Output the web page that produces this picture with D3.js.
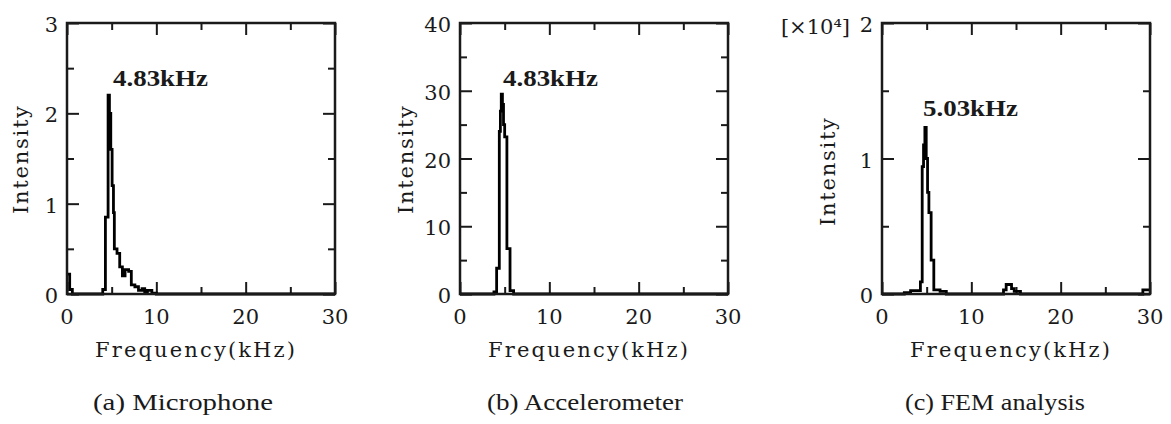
<!DOCTYPE html>
<html>
<head>
<meta charset="utf-8">
<script src="https://cdn.jsdelivr.net/npm/d3@7"></script>
<style>
  body { margin: 0; background: #fff; }
  text { font-family: "DejaVu Serif", "Liberation Serif", serif; fill: #1a1a1a; }
  text.times { font-family: "Liberation Serif", "DejaVu Serif", serif; }
</style>
</head>
<body>
<div id="vis"></div>
<script>
// Espectros (kHz, intensidad), leidos a ojo de la figura
const FREQ_A = [0, 0.3, 0.6, 4.0, 4.3, 4.6, 4.75, 4.9, 5.05, 5.2, 5.3, 5.6, 5.9, 6.2, 6.5, 6.9, 7.2, 7.6, 8.0, 8.4, 8.7, 9.0, 9.5, 10.0, 30];
const INT_A  = [0.22, 0.05, 0, 0.05, 0.85, 2.2, 2.0, 1.6, 1.2, 0.9, 0.5, 0.45, 0.3, 0.2, 0.27, 0.25, 0.1, 0.08, 0.04, 0.06, 0.02, 0.04, 0.01, 0, 0];

const FREQ_B = [0, 3.8, 4.1, 4.4, 4.52, 4.62, 4.75, 4.87, 5.0, 5.25, 5.6, 6.0, 30];
const INT_B  = [0, 0.3, 3.8, 24, 27, 29.5, 28, 25, 23.2, 6.7, 0.5, 0, 0];

const FREQ_C = [0, 2.5, 3.2, 4.3, 4.5, 4.65, 4.8, 4.95, 5.1, 5.25, 5.5, 5.8, 6.5, 7.2, 13.6, 13.9, 14.5, 14.8, 15.5, 29.2, 30];
const INT_C  = [0, 0.01, 0.025, 0.09, 0.94, 1.1, 1.23, 1.0, 0.75, 0.6, 0.25, 0.03, 0.02, 0, 0.03, 0.07, 0.04, 0.02, 0, 0.03, 0.03];

const X_TICKS = [0, 10, 20, 30];
const Y_TICKS_A = [0, 1, 2, 3];
const Y_TICKS_B = [0, 10, 20, 30, 40];
const Y_TICKS_C = [0, 1, 2];

const PEAK_LABELS = ["4.83kHz", "4.83kHz", "5.03kHz"];
const CAPTIONS = ["(a) Microphone", "(b) Accelerometer", "(c) FEM analysis"];

const WIDTH = 1171;
const HEIGHT = 424;

const SVG = d3.select("#vis").append("svg").attr("width", WIDTH).attr("height", HEIGHT);
SVG.append("rect").attr("width", WIDTH).attr("height", HEIGHT).attr("fill", "#fff");

// un objeto por grafico, solo con la posicion y lo que toca de datos
const paneles = [
    { left: 67, freq: FREQ_A, vals: INT_A, yTicks: Y_TICKS_A, yMinor: 0.5, peak: [113, 86], capW: 180, capX: 93 },
    { left: 460, freq: FREQ_B, vals: INT_B, yTicks: Y_TICKS_B, yMinor: 5, peak: [503, 86], capW: 196, capX: 487 },
    { left: 882, freq: FREQ_C, vals: INT_C, yTicks: Y_TICKS_C, yMinor: 0.5, peak: [923, 116], capW: 180, capX: 905 },
];

const TOP = 23;
const BOTTOM = 294;
const PW = 268;

paneles.forEach((p, i) => {
    const g = SVG.append("g");
    const x = d3.scaleLinear().domain([0, 30]).range([p.left, p.left + PW]);
    const yMax = d3.max(p.yTicks);
    const y = d3.scaleLinear().domain([0, yMax]).range([BOTTOM, TOP]);

    const xMinor = d3.range(5, 30, 10);
    const yMinor = d3.range(p.yMinor, yMax, p.yMinor * 2);

    // ticks hacia adentro en los 4 lados
    const tick = (gen, vals, len) => g.append("g")
        .call(gen.tickValues(vals).tickSize(-len).tickFormat(""))
        .call(a => a.select(".domain").remove())
        .call(a => a.selectAll("line").attr("stroke", "#1a1a1a").attr("stroke-width", 2));

    tick(d3.axisBottom(x), X_TICKS, 12).attr("transform", `translate(0,${BOTTOM})`);
    tick(d3.axisBottom(x), xMinor, 7).attr("transform", `translate(0,${BOTTOM})`);
    tick(d3.axisTop(x), X_TICKS, 12).attr("transform", `translate(0,${TOP})`);
    tick(d3.axisTop(x), xMinor, 7).attr("transform", `translate(0,${TOP})`);
    tick(d3.axisLeft(y), p.yTicks, 12).attr("transform", `translate(${p.left},0)`);
    tick(d3.axisLeft(y), yMinor, 7).attr("transform", `translate(${p.left},0)`);
    tick(d3.axisRight(y), p.yTicks, 12).attr("transform", `translate(${p.left + PW},0)`);
    tick(d3.axisRight(y), yMinor, 7).attr("transform", `translate(${p.left + PW},0)`);

    // espectro como escalones
    const line = d3.line().x(d => x(d[0])).y(d => y(d[1])).curve(d3.curveStepAfter);
    g.append("path")
        .datum(p.freq.map((f, k) => [f, p.vals[k]]))
        .attr("d", line)
        .attr("fill", "none").attr("stroke", "#000").attr("stroke-width", 2.8)
        .attr("stroke-linejoin", "miter");

    // marco
    g.append("rect").attr("x", p.left).attr("y", TOP).attr("width", PW).attr("height", BOTTOM - TOP)
        .attr("fill", "none").attr("stroke", "#1a1a1a").attr("stroke-width", 2.5);

    // etiquetas
    g.selectAll(".ylab").data(p.yTicks).join("text").attr("class", "ylab")
        .attr("x", p.left - 9).attr("y", d => y(d) + 9)
        .attr("text-anchor", "end").attr("font-size", 21).text(d => d);
    g.selectAll(".xlab").data(X_TICKS).join("text").attr("class", "xlab")
        .attr("x", d => x(d)).attr("y", 324)
        .attr("text-anchor", "middle").attr("font-size", 21).text(d => d);

    g.append("text").attr("x", p.left + 28).attr("y", 357).attr("font-size", 21)
        .attr("textLength", 200).attr("lengthAdjust", "spacing").text("Frequency(kHz)");
    g.append("text").attr("class", "times").attr("x", p.capX).attr("y", 410).attr("font-size", 23)
        .attr("textLength", p.capW).attr("lengthAdjust", "spacingAndGlyphs").text(CAPTIONS[i]);

    g.append("text")
        .attr("transform", `translate(${p.left - 39 - (i == 0 ? 0 : 8)},${160 + (i == 2 ? 12 : 0)}) rotate(-90)`)
        .attr("text-anchor", "middle").attr("font-size", 21)
        .attr("textLength", 108).attr("lengthAdjust", "spacing").text("Intensity");

    g.append("text").attr("class", "times").attr("x", p.peak[0]).attr("y", p.peak[1]).attr("font-size", 23).attr("font-weight", "bold")
        .attr("textLength", 95).attr("lengthAdjust", "spacingAndGlyphs").text(PEAK_LABELS[i]);

    if (i == 2) {
        g.append("text").attr("x", 850).attr("y", 34).attr("text-anchor", "end").attr("font-size", 21)
            .text("[×10⁴]");
    }
});
</script>
</body>
</html>
